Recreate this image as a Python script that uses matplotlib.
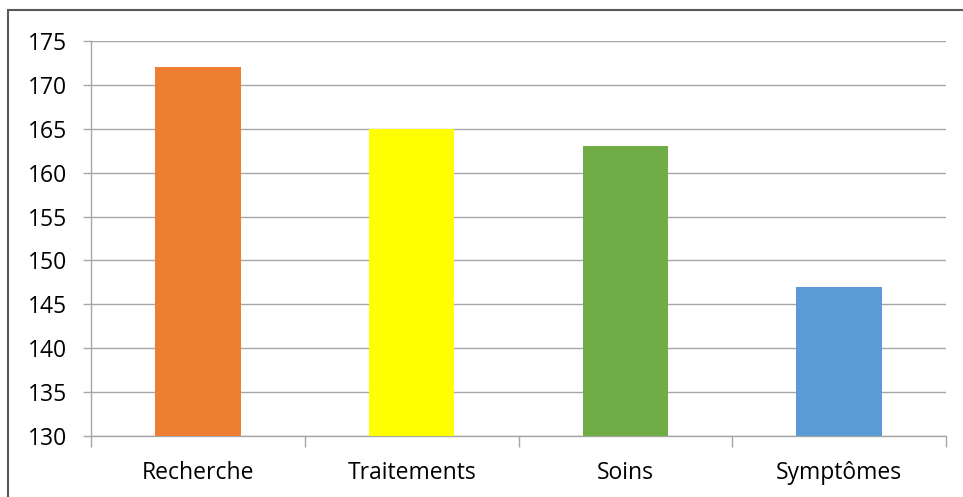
import matplotlib
matplotlib.use('Agg')
import matplotlib.pyplot as plt
from matplotlib.patches import Rectangle

categories = ['Recherche', 'Traitements', 'Soins', 'Symptômes']
values = [172, 165, 163, 147]
colors = ['#ED7D31', '#FFFF00', '#70AD47', '#5B9BD5']
yticks = [130, 135, 140, 145, 150, 155, 160, 165, 170, 175]

plt.rcParams['font.family'] = ['Open Sans', 'DejaVu Sans']

fig = plt.figure(figsize=(9.63, 4.97), dpi=100)
ax = fig.add_axes([91/963, 1-436/497, (946-91)/963, (436-41)/497])

# outer frame, like the chart area border
fig.patches.append(Rectangle((8/963, -0.1), 1.2, 1.1-10/497, transform=fig.transFigure,
                             fill=False, edgecolor='#595959', linewidth=1.5))

x = list(range(len(categories)))
ax.bar(x, [v - 130 for v in values], bottom=130, width=0.4, color=colors, zorder=3)

ax.set_xlim(-0.5, len(categories) - 0.5)
ax.set_ylim(130, 175)
ax.set_yticks(yticks)
ax.set_yticklabels([str(t) for t in yticks], fontsize=16.5)
ax.grid(axis='y', color='#A6A6A6', linewidth=1, zorder=0)

ax.set_xticks(x)
ax.set_xticklabels(categories, fontsize=16.5)
ax.set_xticks([i - 0.5 for i in range(len(categories) + 1)], minor=True)
ax.tick_params(axis='x', which='major', length=0, pad=18)
ax.tick_params(axis='x', which='minor', length=8, color='#A6A6A6', width=1)
ax.tick_params(axis='y', length=6, color='#A6A6A6', width=1, pad=11)

for side in ['top', 'right']:
    ax.spines[side].set_visible(False)
for side in ['left', 'bottom']:
    ax.spines[side].set_color('#A6A6A6')
    ax.spines[side].set_linewidth(1)

fig.savefig('out.png', dpi=100)
